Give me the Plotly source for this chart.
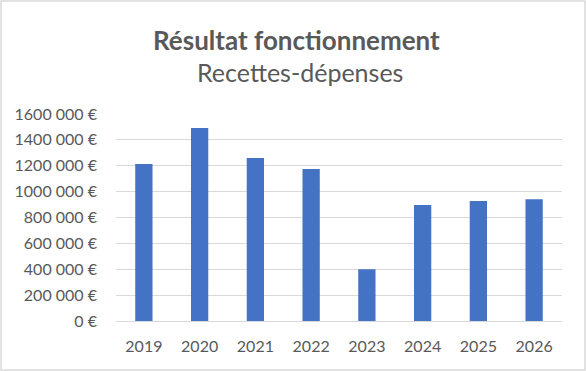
import plotly.graph_objects as go

years = ["2019", "2020", "2021", "2022", "2023", "2024", "2025", "2026"]
values = [1213000, 1492000, 1259000, 1174000, 400000, 896000, 927000, 942000]
tick_vals = [0, 200000, 400000, 600000, 800000, 1000000, 1200000, 1400000, 1600000]
tick_text = ["0 €", "200 000 €", "400 000 €", "600 000 €", "800 000 €",
             "1000 000 €", "1200 000 €", "1400 000 €", "1600 000 €"]
title = "Résultat fonctionnement"
subtitle = "Recettes-dépenses"

W, H = 586, 371
ml, mr, mt, mb = 116, 24, 114, 50
pw, ph = W - ml - mr, H - mt - mb

font_fam = "Lato, 'Noto Sans', sans-serif"
gray = "#595959"

fig = go.Figure(go.Bar(x=years, y=values, marker_color="#4472C4", marker_line_width=0))

fig.update_layout(
    width=W, height=H,
    margin=dict(l=ml, r=mr, t=mt, b=mb),
    paper_bgcolor="white", plot_bgcolor="white",
    bargap=0.69,
    showlegend=False,
    font=dict(family=font_fam, color=gray),
)
fig.update_xaxes(showgrid=False, showline=False, ticks="", ticklabelstandoff=14,
                 tickfont=dict(size=16, color=gray, family=font_fam))
fig.update_yaxes(range=[0, 1600000], tickvals=tick_vals, ticktext=tick_text,
                 showgrid=True, gridcolor="#D9D9D9", gridwidth=1.3,
                 zeroline=True, zerolinecolor="#D9D9D9", zerolinewidth=1.3,
                 showline=False, ticks="", ticklabelstandoff=18,
                 tickfont=dict(size=16, color=gray, family=font_fam))

fig.add_annotation(text="<b>" + title + "</b>", xref="paper", yref="paper",
                   x=(W / 2 + 3 - ml) / pw, y=(H - 40 - mb) / ph,
                   showarrow=False, xanchor="center", yanchor="middle",
                   font=dict(size=26, color=gray, family=font_fam))
fig.add_annotation(text=subtitle, xref="paper", yref="paper",
                   x=(W / 2 + 7 - ml) / pw, y=(H - 72 - mb) / ph,
                   showarrow=False, xanchor="center", yanchor="middle",
                   font=dict(size=25, color=gray, family=font_fam))

# outer chart border
fig.add_shape(type="rect", xref="paper", yref="paper",
              x0=(1 - ml) / pw, x1=(W - 1 - ml) / pw,
              y0=(1 - mb) / ph, y1=(H - 1 - mb) / ph,
              line=dict(color="#D9D9D9", width=1.5), layer="below")

fig.write_html("out.html")
